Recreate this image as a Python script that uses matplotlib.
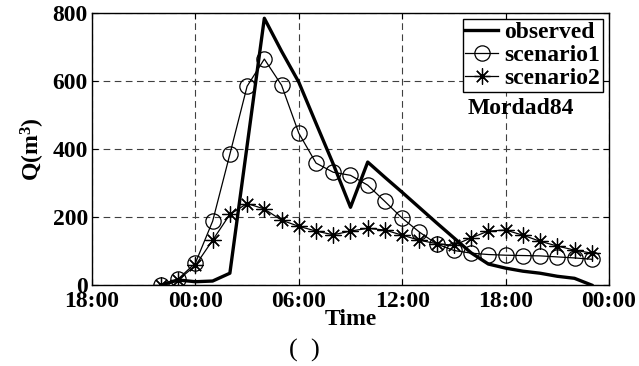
import numpy as np
import matplotlib.pyplot as plt

# hours counted from 18:00 of the first day
hours = list(range(4, 30))

observed = [0, 15, 10, 12, 35, 410, 785, 688, 597, 476, 356, 229, 362,
            317, 273, 228, 183, 139, 95, 62, 50, 41, 35, 26, 20, 0]
scenario1 = [0, 18, 65, 188, 385, 585, 665, 588, 447, 359, 332, 323, 294,
             246, 197, 156, 121, 102, 94, 90, 88, 87, 86, 83, 80, 76]
scenario2 = [0, 15, 58, 132, 208, 240, 224, 191, 173, 159, 148, 159, 167,
             162, 147, 132, 122, 117, 139, 159, 162, 147, 129, 115, 103, 94]

tick_hours = [0, 6, 12, 18, 24, 30]
tick_labels = ["18:00", "00:00", "06:00", "12:00", "18:00", "00:00"]
y_ticks = [0, 200, 400, 600, 800]

plt.rcParams['font.family'] = ['Liberation Serif', 'DejaVu Serif']
plt.rcParams['mathtext.fontset'] = 'custom'
plt.rcParams['mathtext.bf'] = 'Liberation Serif:bold'
plt.rcParams['mathtext.rm'] = 'Liberation Serif'

fs = 17

fig = plt.figure(figsize=(6.39, 3.66), dpi=100)
ax = fig.add_axes([0.144, 0.221, 0.809, 0.743])

ax.plot(hours, observed, color='black', lw=2.4, label='observed')
ax.plot(hours, scenario1, color='black', lw=0.9, marker='o', ms=11,
        mfc='none', mew=0.9, label='scenario1')
ax.plot(hours, scenario2, color='black', lw=0.9, marker=(8, 2, 0), ms=11.5,
        mew=0.9, label='scenario2')

ax.set_xlim(0, 30)
ax.set_ylim(0, 800)
ax.set_xticks(tick_hours)
ax.set_xticklabels(tick_labels)
ax.set_yticks(y_ticks)
ax.tick_params(direction='in', length=4, width=0.8, top=True, right=True,
               labelsize=fs, pad=3)
ax.tick_params(axis='x', pad=4)
for lab in ax.get_xticklabels() + ax.get_yticklabels():
    lab.set_fontweight('bold')
for s in ax.spines.values():
    s.set_linewidth(1.0)

ax.grid(True, color='0.25', lw=0.8, linestyle=(0, (6, 4)))

ax.set_xlabel('Time', fontsize=fs, fontweight='bold', labelpad=-2)
ax.set_ylabel(r'$\mathbf{Q(m^3)}$', fontsize=fs, labelpad=4)

leg = ax.legend(loc='upper right', frameon=True, fancybox=False,
                framealpha=1, edgecolor='black', borderpad=0.12,
                handlelength=1.4, handletextpad=0.25, labelspacing=0.05,
                borderaxespad=0.25, prop={'weight': 'bold', 'size': fs})
leg.get_frame().set_linewidth(1.0)

ax.text(0.83, 0.65, 'Mordad84', transform=ax.transAxes, ha='center',
        va='center', fontsize=fs, fontweight='bold')

fig.text(0.477, 0.042, '(  )', ha='center', va='center', fontsize=19)

fig.savefig('out.png', dpi=100)
